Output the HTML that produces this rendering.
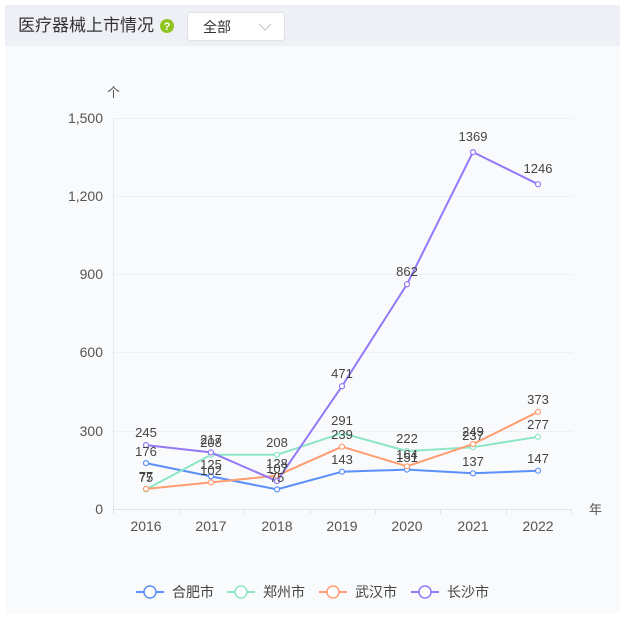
<!DOCTYPE html>
<html><head><meta charset="utf-8"><style>
body{margin:0;width:625px;height:614px;background:#fff;font-family:"Liberation Sans","Noto Sans CJK SC",sans-serif;overflow:hidden}
</style></head><body>
<svg width="625" height="614" xmlns="http://www.w3.org/2000/svg" font-family="Liberation Sans, Noto Sans CJK SC, sans-serif">
<rect x="5" y="5" width="615" height="609" fill="#f9fafc"/>
<rect x="5" y="5" width="615" height="41" fill="#eef0f5"/>
<text x="18" y="31" font-size="17" fill="#333">医疗器械上市情况</text>
<circle cx="167" cy="26" r="7" fill="#8fc31f"/>
<text x="167" y="30" font-size="11" fill="#fff" text-anchor="middle" font-weight="bold">?</text>
<rect x="187.5" y="12.5" width="97" height="28" rx="3" fill="#fff" stroke="#dde1e8"/>
<text x="203" y="32" font-size="14" fill="#333">全部</text>
<path d="M259 24 l6 6 l6 -6" fill="none" stroke="#c0c4cc" stroke-width="1"/>
<g stroke="#eef0f4" stroke-width="1">
<line x1="113" y1="118.5" x2="572" y2="118.5"/><line x1="113" y1="196.5" x2="572" y2="196.5"/><line x1="113" y1="274.5" x2="572" y2="274.5"/><line x1="113" y1="352.5" x2="572" y2="352.5"/><line x1="113" y1="431.5" x2="572" y2="431.5"/>
</g>
<line x1="113" y1="509.5" x2="572" y2="509.5" stroke="#dfe3ea"/>
<line x1="113.5" y1="118" x2="113.5" y2="509" stroke="#e6e9ee"/>
<g stroke="#dfe3ea"><line x1="113.5" y1="509" x2="113.5" y2="514"/><line x1="179.5" y1="509" x2="179.5" y2="514"/><line x1="244.5" y1="509" x2="244.5" y2="514"/><line x1="310.5" y1="509" x2="310.5" y2="514"/><line x1="375.5" y1="509" x2="375.5" y2="514"/><line x1="440.5" y1="509" x2="440.5" y2="514"/><line x1="506.5" y1="509" x2="506.5" y2="514"/><line x1="571.5" y1="509" x2="571.5" y2="514"/></g>
<g font-size="14" fill="#555" text-anchor="end">
<text x="103" y="123">1,500</text><text x="103" y="201">1,200</text><text x="103" y="279">900</text><text x="103" y="357">600</text><text x="103" y="436">300</text><text x="103" y="514">0</text>
</g>
<text x="107" y="97" font-size="13" fill="#555">个</text>
<text x="589" y="514" font-size="13" fill="#555">年</text>
<g font-size="14" fill="#555" text-anchor="middle">
<text x="146" y="531">2016</text><text x="211" y="531">2017</text><text x="277" y="531">2018</text><text x="342" y="531">2019</text><text x="407" y="531">2020</text><text x="473" y="531">2021</text><text x="538" y="531">2022</text>
</g>
<g fill="none" stroke-width="2" stroke-linejoin="round">
<polyline stroke="#5b8ff9" points="146,463.1 211,476.4 277,489.4 342,471.7 407,469.6 473,473.3 538,470.7"/>
<polyline stroke="#8ce6c4" points="146,489.4 211,454.8 277,454.8 342,433.1 407,451.1 473,447.2 538,436.8"/>
<polyline stroke="#ff9d70" points="146,488.9 211,482.4 277,475.6 342,446.7 407,466.3 473,444.1 538,411.8"/>
<polyline stroke="#9478f5" points="146,445.1 211,452.4 277,481.1 342,386.2 407,284.3 473,152.1 538,184.2"/>
</g>
<g fill="#fff" stroke-width="1.2">
<g stroke="#5b8ff9"><circle cx="146" cy="463.1" r="2.5"/><circle cx="211" cy="476.4" r="2.5"/><circle cx="277" cy="489.4" r="2.5"/><circle cx="342" cy="471.7" r="2.5"/><circle cx="407" cy="469.6" r="2.5"/><circle cx="473" cy="473.3" r="2.5"/><circle cx="538" cy="470.7" r="2.5"/></g>
<g stroke="#8ce6c4"><circle cx="146" cy="489.4" r="2.5"/><circle cx="211" cy="454.8" r="2.5"/><circle cx="277" cy="454.8" r="2.5"/><circle cx="342" cy="433.1" r="2.5"/><circle cx="407" cy="451.1" r="2.5"/><circle cx="473" cy="447.2" r="2.5"/><circle cx="538" cy="436.8" r="2.5"/></g>
<g stroke="#ff9d70"><circle cx="146" cy="488.9" r="2.5"/><circle cx="211" cy="482.4" r="2.5"/><circle cx="277" cy="475.6" r="2.5"/><circle cx="342" cy="446.7" r="2.5"/><circle cx="407" cy="466.3" r="2.5"/><circle cx="473" cy="444.1" r="2.5"/><circle cx="538" cy="411.8" r="2.5"/></g>
<g stroke="#9478f5"><circle cx="146" cy="445.1" r="2.5"/><circle cx="211" cy="452.4" r="2.5"/><circle cx="277" cy="481.1" r="2.5"/><circle cx="342" cy="386.2" r="2.5"/><circle cx="407" cy="284.3" r="2.5"/><circle cx="473" cy="152.1" r="2.5"/><circle cx="538" cy="184.2" r="2.5"/></g>
</g>
<g font-size="13" fill="#444" text-anchor="middle">
<text x="146" y="456">176</text><text x="211" y="469">125</text><text x="277" y="482">75</text><text x="342" y="464">143</text><text x="407" y="462">151</text><text x="473" y="466">137</text><text x="538" y="463">147</text>
<text x="146" y="482">75</text><text x="211" y="447">208</text><text x="277" y="447">208</text><text x="342" y="425">291</text><text x="407" y="443">222</text><text x="473" y="440">237</text><text x="538" y="429">277</text>
<text x="146" y="481">77</text><text x="211" y="475">102</text><text x="277" y="468">128</text><text x="342" y="439">239</text><text x="407" y="459">164</text><text x="473" y="436">249</text><text x="538" y="404">373</text>
<text x="146" y="437">245</text><text x="211" y="444">217</text><text x="277" y="473">107</text><text x="342" y="378">471</text><text x="407" y="276">862</text><text x="473" y="141">1369</text><text x="538" y="173">1246</text>
</g>
<g font-size="14" fill="#444">
<line x1="136" y1="592" x2="164" y2="592" stroke="#5b8ff9" stroke-width="2"/><circle cx="150" cy="592" r="6" fill="#fff" stroke="#5b8ff9" stroke-width="1.5"/><text x="172" y="597">合肥市</text>
<line x1="227" y1="592" x2="255" y2="592" stroke="#8ce6c4" stroke-width="2"/><circle cx="241" cy="592" r="6" fill="#fff" stroke="#8ce6c4" stroke-width="1.5"/><text x="263" y="597">郑州市</text>
<line x1="319" y1="592" x2="347" y2="592" stroke="#ff9d70" stroke-width="2"/><circle cx="333" cy="592" r="6" fill="#fff" stroke="#ff9d70" stroke-width="1.5"/><text x="355" y="597">武汉市</text>
<line x1="411" y1="592" x2="439" y2="592" stroke="#9478f5" stroke-width="2"/><circle cx="425" cy="592" r="6" fill="#fff" stroke="#9478f5" stroke-width="1.5"/><text x="447" y="597">长沙市</text>
</g>
</svg>
</body></html>
